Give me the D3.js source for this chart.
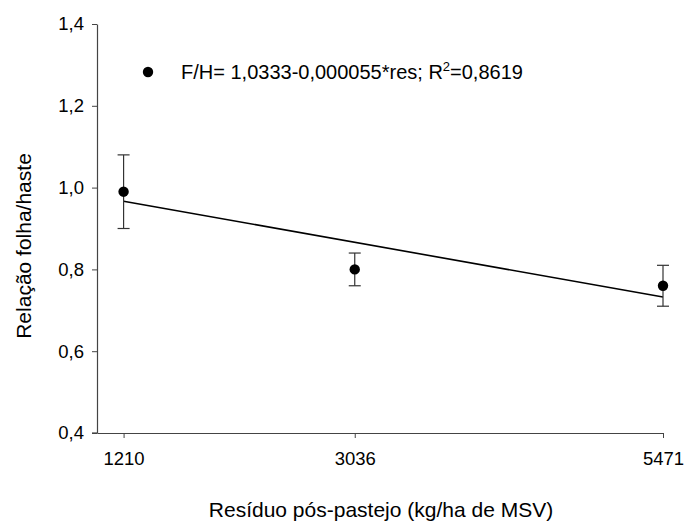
<!DOCTYPE html>
<html><head><meta charset="utf-8">
<script src="https://cdn.jsdelivr.net/npm/d3@7"></script>
<style>body{margin:0;background:#fff}svg{display:block}text{font-family:"Liberation Sans",Arial,sans-serif;fill:#000}</style>
</head><body>
<svg id="c" width="686" height="525"></svg>
<script>
const residues = [1210, 3036, 5471];
const ratio = [0.99, 0.80, 0.76];
const errLow = [0.90, 0.76, 0.71];
const errHigh = [1.08, 0.84, 0.81];
const fitX = [1210, 5471];
const fitY = [0.9667, 0.7324];
const yTicks = [0.4, 0.6, 0.8, 1.0, 1.2, 1.4];
const xTicks = [1210, 3036, 5471];
const legendText = "F/H= 1,0333-0,000055*res; R";

const svg = d3.select("#c");
const x = d3.scaleLinear().domain([1000, 5471]).range([97, 663]);
const y = d3.scaleLinear().domain([0.4, 1.4]).range([433, 24]);
const axisColor = "#444";

const fmt = v => d3.format(".1f")(v).replace(".", ",");

const gy = svg.append("g").attr("transform", "translate(97,0)")
  .call(d3.axisLeft(y).tickValues(yTicks).tickFormat(fmt).tickSize(5).tickSizeOuter(0));
const gx = svg.append("g").attr("transform", "translate(0,433)")
  .call(d3.axisBottom(x).tickValues(xTicks).tickFormat(d3.format("d")).tickSize(5).tickSizeOuter(0));
[gx, gy].forEach(g => {
  g.select(".domain").attr("stroke", axisColor).attr("stroke-width", 1.2);
  g.selectAll(".tick line").attr("stroke", axisColor).attr("stroke-width", 1);
  g.selectAll(".tick text").attr("font-size", 18.5).attr("font-family", "Liberation Sans, Arial, sans-serif").attr("fill", "#000");
});
gy.selectAll(".tick text").attr("x", -13);
gx.selectAll(".tick text").attr("y", 19);
svg.append("line").attr("x1", 92).attr("x2", 97).attr("y1", 433).attr("y2", 433).attr("stroke", axisColor).attr("stroke-width", 1.2);

// regression line
svg.append("line")
  .attr("x1", x(fitX[0])).attr("y1", y(fitY[0]))
  .attr("x2", x(fitX[1])).attr("y2", y(fitY[1]))
  .attr("stroke", "#000").attr("stroke-width", 1.6);

// error bars
const eb = svg.append("g").attr("stroke", "#333").attr("stroke-width", 1.2);
residues.forEach((r, i) => {
  const cx = x(r);
  eb.append("line").attr("x1", cx).attr("x2", cx).attr("y1", y(errLow[i])).attr("y2", y(errHigh[i]));
  eb.append("line").attr("x1", cx - 6).attr("x2", cx + 6).attr("y1", y(errLow[i])).attr("y2", y(errLow[i]));
  eb.append("line").attr("x1", cx - 6).attr("x2", cx + 6).attr("y1", y(errHigh[i])).attr("y2", y(errHigh[i]));
});

// points
svg.append("g").selectAll("circle").data(residues).join("circle")
  .attr("cx", d => x(d)).attr("cy", (d, i) => y(ratio[i])).attr("r", 5.2).attr("fill", "#000");

// legend
svg.append("circle").attr("cx", 148).attr("cy", 72).attr("r", 5.2).attr("fill", "#000");
const lt = svg.append("text").attr("x", 181).attr("y", 79).attr("font-size", 20);
lt.append("tspan").text(legendText);
lt.append("tspan").attr("font-size", 13).attr("dy", -8).text("2");
lt.append("tspan").attr("dy", 8).text("=0,8619");

// axis titles
svg.append("text").attr("x", 381).attr("y", 517).attr("text-anchor", "middle").attr("font-size", 21)
  .text("Resíduo pós-pastejo (kg/ha de MSV)");
svg.append("text").attr("transform", "translate(31,246) rotate(-90)").attr("text-anchor", "middle").attr("font-size", 21)
  .text("Relação folha/haste");
</script>
</body></html>
